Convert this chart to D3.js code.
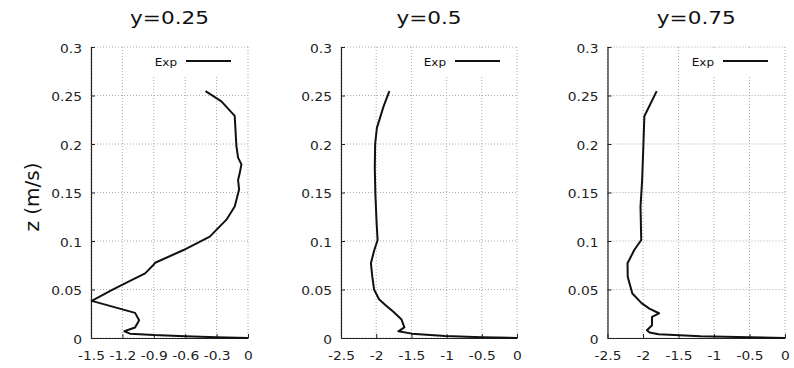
<!DOCTYPE html>
<html>
<head>
<meta charset="utf-8">
<script src="https://cdn.jsdelivr.net/npm/d3@7"></script>
<style>
  body { margin: 0; background: #fff; }
  svg { display: block; font-family: "DejaVu Sans", Verdana, sans-serif; }
</style>
</head>
<body>
<svg id="chart" width="794" height="368"></svg>
<script>
// --- data ---
const titles = ["y=0.25", "y=0.5", "y=0.75"];
const legendLabel = "Exp";
const zTicks = [0, 0.05, 0.1, 0.15, 0.2, 0.25, 0.3];
const xTicksNarrow = [-1.5, -1.2, -0.9, -0.6, -0.3, 0];
const xTicksWide = [-2.5, -2, -1.5, -1, -0.5, 0];

// [u, z] pairs, top of profile down to the wall
const exp025 = [
  [-0.406, 0.2545], [-0.254, 0.244], [-0.127, 0.229], [-0.111, 0.198], [-0.095, 0.186],
  [-0.063, 0.179], [-0.079, 0.170], [-0.095, 0.163], [-0.085, 0.153], [-0.127, 0.1355],
  [-0.206, 0.122], [-0.365, 0.1045], [-0.616, 0.0907], [-0.887, 0.0776], [-0.904, 0.0752],
  [-0.983, 0.0666], [-1.175, 0.0563], [-1.302, 0.0493], [-1.493, 0.0383], [-1.079, 0.0259],
  [-1.04, 0.0183], [-1.079, 0.0108], [-1.181, 0.0069], [-1.127, 0.0045], [-0.9, 0.003],
  [-0.6, 0.0018], [-0.3, 0.0008], [0, 0]
];
const exp05 = [
  [-1.813, 0.2545], [-1.894, 0.239], [-1.99, 0.2166], [-2.015, 0.2], [-2.02, 0.175],
  [-2.012, 0.149], [-1.995, 0.12], [-1.98, 0.101], [-2.03, 0.09], [-2.075, 0.077],
  [-2.055, 0.063], [-2.03, 0.05], [-1.96, 0.04], [-1.87, 0.034], [-1.756, 0.027],
  [-1.64, 0.019], [-1.6, 0.011], [-1.685, 0.0069], [-1.494, 0.0045], [-1.02, 0.002],
  [-0.5, 0.0008], [0, 0]
];
const exp075 = [
  [-1.807, 0.2545], [-1.981, 0.2286], [-1.995, 0.1976], [-2.012, 0.163], [-2.035, 0.1355],
  [-2.025, 0.101], [-2.123, 0.0907], [-2.218, 0.077], [-2.215, 0.063], [-2.15, 0.0459],
  [-2.02, 0.036], [-1.91, 0.0303], [-1.775, 0.0255], [-1.873, 0.0217], [-1.873, 0.0131],
  [-1.944, 0.008], [-1.907, 0.0056], [-1.78, 0.0038], [-1.19, 0.0018], [-0.5, 0.0007],
  [0, 0]
];

const series = [exp025, exp05, exp075];
const xTickSets = [xTicksNarrow, xTicksWide, xTicksWide];

// --- layout ---
const SX = 1.2; // reference text is stretched sideways
const frames = [
  { left: 91, right: 248 },
  { left: 341, right: 517 },
  { left: 607.5, right: 785 }
];
const plotTop = 47, plotBottom = 338;

const svg = d3.select("#chart");
const zScale = d3.scaleLinear().domain([0, 0.3]).range([plotBottom, plotTop]);
const fmt = v => String(+v.toFixed(2));

frames.forEach((f, i) => {
  const ticks = xTickSets[i];
  const xScale = d3.scaleLinear().domain([ticks[0], 0]).range([f.left, f.right]);
  const g = svg.append("g");

  // dotted grid
  g.append("g").selectAll("line").data(ticks).join("line")
    .attr("x1", d => xScale(d)).attr("x2", d => xScale(d))
    .attr("y1", plotTop).attr("y2", plotBottom)
    .attr("stroke", "#aaa").attr("stroke-dasharray", "1,2");
  g.append("g").selectAll("line").data(zTicks).join("line")
    .attr("x1", f.left).attr("x2", f.right)
    .attr("y1", d => zScale(d)).attr("y2", d => zScale(d))
    .attr("stroke", "#aaa").attr("stroke-dasharray", "1,2");

  // legend box hides the grid behind it
  g.append("rect")
    .attr("x", f.right - 100).attr("y", 50)
    .attr("width", 92).attr("height", 26)
    .attr("fill", "#fff");
  g.append("text")
    .attr("transform", `translate(${f.right - 71},65.5) scale(${SX},1)`)
    .attr("text-anchor", "end")
    .attr("font-size", "10px")
    .attr("fill", "#111")
    .text(legendLabel);
  g.append("line")
    .attr("x1", f.right - 62).attr("x2", f.right - 17)
    .attr("y1", 61).attr("y2", 61)
    .attr("stroke", "#111").attr("stroke-width", 2);

  // axes (ticks point inward, like gnuplot)
  const xAxis = g.append("g")
    .attr("transform", `translate(0,${plotBottom})`)
    .call(d3.axisBottom(xScale).tickValues(ticks).tickFormat(fmt)
      .tickSizeInner(-4).tickSizeOuter(0).tickPadding(13.5));
  const zAxis = g.append("g")
    .attr("transform", `translate(${f.left},0)`)
    .call(d3.axisLeft(zScale).tickValues(zTicks).tickFormat(fmt)
      .tickSizeInner(-4).tickSizeOuter(0).tickPadding(7.5));

  [xAxis, zAxis].forEach(ax => {
    ax.attr("color", "#222");
    ax.select(".domain").attr("stroke-width", 1.2);
    ax.selectAll("text")
      .attr("font-family", "DejaVu Sans, sans-serif")
      .attr("font-size", "11.5px")
      .attr("fill", "#222")
      .attr("transform", `scale(${SX},1)`);
  });
  zAxis.selectAll("text").attr("dy", "0.45em");

  // profile
  g.append("path")
    .datum(series[i])
    .attr("fill", "none")
    .attr("stroke", "#111")
    .attr("stroke-width", 2)
    .attr("stroke-linejoin", "round")
    .attr("d", d3.line().x(d => xScale(d[0])).y(d => zScale(d[1])));

  // panel title
  svg.append("text")
    .attr("transform", `translate(${(f.left + f.right) / 2},24) scale(${SX},1)`)
    .attr("text-anchor", "middle")
    .attr("font-size", "18px")
    .attr("fill", "#111")
    .text(titles[i]);
});

// shared y label
svg.append("text")
  .attr("transform", "translate(39,197) rotate(-90)")
  .attr("text-anchor", "middle")
  .attr("font-size", "20px")
  .attr("fill", "#111")
  .text("z (m/s)");
</script>
</body>
</html>
